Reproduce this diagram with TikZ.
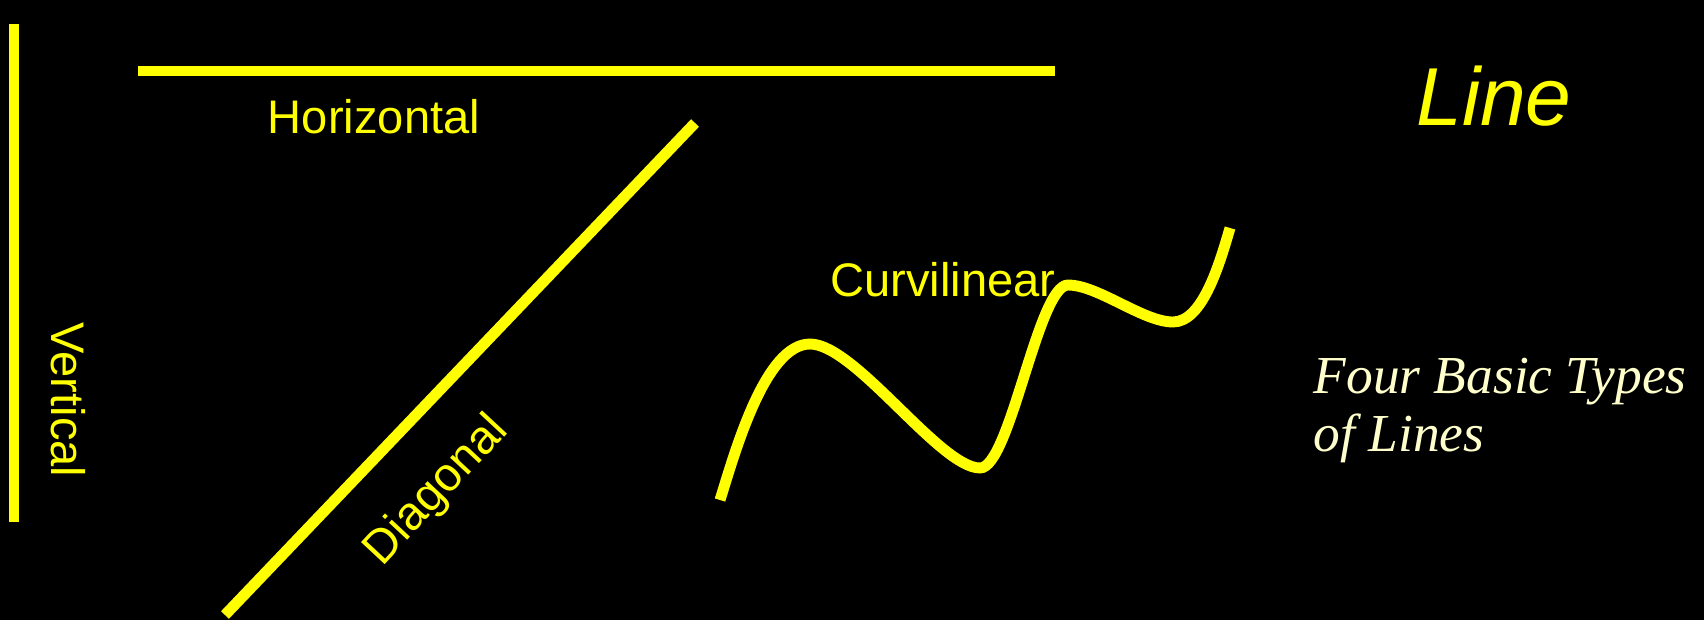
\documentclass[tikz,border=0pt]{standalone}
\usepackage{fontspec}
\setmainfont{Liberation Sans}
\newfontfamily\capfont{Liberation Serif}
\definecolor{linecol}{HTML}{FFFF00}
\definecolor{capcol}{HTML}{FFFFCC}
\begin{document}
\begin{tikzpicture}[
  stroke/.style={draw=linecol, line width=3.1pt},
  lbl/.style={text=linecol, inner sep=0pt, font=\fontsize{13.4}{16}\selectfont}]
\useasboundingbox (0,0) rectangle (17.04,6.20);
\fill[black] (0,0) rectangle (17.04,6.20);

% the four lines
\draw[stroke] (0.14,5.96) -- (0.14,0.98);
\draw[stroke] (1.38,5.49) -- (10.55,5.49);
\draw[stroke] (6.95,4.97) -- (2.25,0.05);
\draw[stroke] (7.20,1.20) .. controls (7.35,1.68) and (7.65,2.76) .. (8.10,2.76)
  .. controls (8.55,2.76) and (9.40,1.52) .. (9.80,1.52)
  .. controls (10.10,1.52) and (10.38,3.35) .. (10.68,3.35)
  .. controls (10.98,3.35) and (11.43,2.98) .. (11.73,2.98)
  .. controls (12.03,2.98) and (12.20,3.58) .. (12.30,3.92);

% names of the lines
\node[lbl] (horiz) at (3.74,5.03) {Horizontal};
\node[lbl, rotate=-90] (vert) at (0.68,2.20) {Vertical};
\node[lbl, rotate=47] (diag) at (4.37,1.29) {Diagonal};
\node[lbl] (curvi) at (9.43,3.40) {Curvilinear};

\node[lbl, anchor=base, font=\fontsize{23.4}{28}\selectfont\itshape] (title) at (14.94,4.95) {Line};
\node[anchor=base west, align=left, inner sep=0pt, text=capcol,
  font=\fontsize{15.2}{16.5}\selectfont\capfont\itshape] (caption) at (13.13,1.69)
  {Four Basic Types\\of Lines};
\end{tikzpicture}
\end{document}
